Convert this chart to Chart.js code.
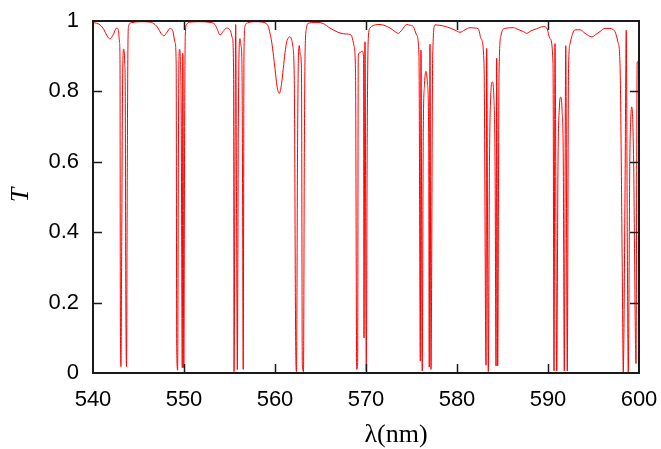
<!DOCTYPE html>
<html>
<head>
<meta charset="utf-8">
<script src="https://cdn.jsdelivr.net/npm/chart.js@4.4.0/dist/chart.umd.min.js"></script>
<style>
  html, body { margin: 0; padding: 0; background: #fff; }
  canvas { display: block; }
</style>
</head>
<body>
<canvas id="spectrum" width="661" height="449"></canvas>
<script>
const wavelength = [
  540.00, 540.77, 541.21, 541.54, 541.87, 542.20, 542.60, 542.78,
  542.91, 542.97, 543.00, 543.07, 543.16, 543.25, 543.37, 543.49, 543.55, 543.59, 543.68, 543.77, 543.84, 543.91,
  544.18, 545.16, 546.26, 546.81, 547.14, 547.47, 547.80, 548.13, 548.46, 548.79, 549.01,
  549.14, 549.20, 549.30, 549.38, 549.44, 549.51, 549.60, 549.69, 549.81, 549.87, 549.98, 550.07, 550.14, 550.27,
  550.66, 551.76, 552.86, 553.41, 553.63, 553.96, 554.29, 554.69, 555.05, 555.33,
  555.45, 555.50, 555.60, 555.68, 555.77, 555.86, 555.97, 556.07, 556.15, 556.26, 556.35, 556.40, 556.51, 556.59, 556.70,
  557.03, 557.80, 558.57, 559.01, 559.26, 559.45, 559.64, 559.84, 560.00, 560.22, 560.47, 560.71, 560.91, 561.10, 561.28, 561.48, 561.65, 561.81, 561.95,
  562.12, 562.27, 562.36, 562.47, 562.56, 562.67, 562.78, 562.91, 563.00, 563.13, 563.22, 563.30, 563.46, 563.63,
  564.40, 565.27, 566.04, 566.59, 567.14, 567.88, 568.24, 568.46, 568.68,
  568.85, 568.98, 569.08, 569.15, 569.34, 569.56, 569.73, 569.78, 569.89, 570.03, 570.14, 570.25, 570.44, 570.63,
  571.54, 572.64, 573.08, 573.55, 573.96, 574.47, 574.84, 575.20, 575.57,
  575.82, 575.97, 576.04, 576.18, 576.29, 576.43, 576.59, 576.76, 576.89, 576.95, 577.03, 577.14, 577.33, 577.58,
  578.49, 579.23, 579.78, 580.33, 580.88, 581.43, 581.98, 582.34, 582.64,
  582.97, 583.19, 583.26, 583.44, 583.57, 583.71, 583.88, 584.04, 584.18, 584.29, 584.36, 584.47, 584.62, 584.84, 585.27,
  586.19, 586.70, 587.29, 587.66, 588.13, 588.76, 589.48, 589.86, 590.22,
  590.55, 590.66, 590.77, 590.96, 591.10, 591.24, 591.40, 591.54, 591.68, 591.79, 591.95, 592.12, 592.25, 592.42, 592.60, 592.97,
  593.52, 594.07, 594.80, 595.27, 595.71, 596.26, 596.81, 597.14, 597.36, 597.69,
  597.91, 598.16, 598.27, 598.46, 598.60, 598.71, 598.82, 598.99, 599.09, 599.20, 599.31, 599.41, 599.67, 599.80, 600.00
];
const transmission = [
  0.996, 0.989, 0.975, 0.958, 0.949, 0.960, 0.980, 0.975,
  0.94, 0.88, 0.25, 0.018, 0.4, 0.82, 0.92, 0.88, 0.766, 0.33, 0.018, 0.6, 0.93, 0.985,
  0.995, 0.998, 0.997, 0.990, 0.980, 0.965, 0.958, 0.968, 0.979, 0.970, 0.940,
  0.88, 0.07, 0.008, 0.6, 0.88, 0.92, 0.89, 0.75, 0.015, 0.908, 0.015, 0.7, 0.96, 0.99,
  0.997, 0.998, 0.996, 0.990, 0.978, 0.960, 0.970, 0.980, 0.975, 0.950,
  0.85, 0.004, 0.6, 0.99, 0.5, 0.01, 0.7, 0.93, 0.95, 0.93, 0.9, 0.76, 0.01, 0.9, 0.985,
  0.995, 0.998, 0.997, 0.993, 0.985, 0.965, 0.940, 0.900, 0.865, 0.815, 0.794, 0.820, 0.865, 0.910, 0.940, 0.953, 0.955, 0.948, 0.930,
  0.83, 0.09, 0.004, 0.6, 0.88, 0.93, 0.905, 0.865, 0.025, 0.004, 0.6, 0.9, 0.98, 0.993,
  0.996, 0.993, 0.980, 0.972, 0.966, 0.963, 0.962, 0.955, 0.930,
  0.85, 0.01, 0.03, 0.903, 0.91, 0.915, 0.9, 0.1, 0.941, 0.006, 0.7, 0.95, 0.98, 0.985,
  0.990, 0.980, 0.972, 0.965, 0.975, 0.990, 0.988, 0.984, 0.960,
  0.9, 0.034, 0.917, 0.006, 0.67, 0.82, 0.857, 0.82, 0.67, 0.017, 0.934, 0.01, 0.9, 0.989,
  0.986, 0.980, 0.974, 0.968, 0.975, 0.981, 0.980, 0.978, 0.950,
  0.88, 0.022, 0.922, 0.004, 0.6, 0.79, 0.827, 0.79, 0.6, 0.02, 0.894, 0.02, 0.85, 0.96, 0.979,
  0.981, 0.976, 0.970, 0.965, 0.972, 0.978, 0.984, 0.980, 0.950,
  0.88, 0.006, 0.936, 0.006, 0.6, 0.75, 0.784, 0.75, 0.6, 0.006, 0.93, 0.006, 0.85, 0.935, 0.955, 0.975,
  0.975, 0.965, 0.955, 0.962, 0.970, 0.979, 0.979, 0.976, 0.970, 0.940,
  0.88, 0.3, 0.003, 0.5, 0.974, 0.4, 0.003, 0.6, 0.72, 0.756, 0.72, 0.6, 0.027, 0.884, 0.884
];
const xTicks = [540, 550, 560, 570, 580, 590, 600];
const yTicks = [0, 0.2, 0.4, 0.6, 0.8, 1];
const xTitle = 'λ(nm)';
const yTitle = 'T';

const points = wavelength.map((x, i) => ({ x: x, y: transmission[i] }));

// gnuplot-ish box: frame on all four sides, short ticks pointing inwards, titles
const frameAndTitles = {
  id: 'frameAndTitles',
  afterDatasetsDraw(chart) {
    const { ctx, chartArea: a, scales } = chart;
    const tl = 9;
    ctx.save();
    ctx.strokeStyle = '#1a1a1a';
    ctx.lineWidth = 1.5;
    ctx.beginPath();
    xTicks.slice(1, -1).forEach(v => {
      const px = Math.round(scales.x.getPixelForValue(v)) + 0.5;
      ctx.moveTo(px, a.bottom); ctx.lineTo(px, a.bottom - tl);
      ctx.moveTo(px, a.top); ctx.lineTo(px, a.top + tl);
    });
    yTicks.slice(1, -1).forEach(v => {
      const py = Math.round(scales.y.getPixelForValue(v)) + 0.5;
      ctx.moveTo(a.left, py); ctx.lineTo(a.left + tl, py);
      ctx.moveTo(a.right, py); ctx.lineTo(a.right - tl, py);
    });
    ctx.stroke();
    ctx.lineWidth = 2;
    ctx.strokeRect(a.left, a.top, a.right - a.left, a.bottom - a.top);

    ctx.fillStyle = '#000';
    ctx.textAlign = 'center';
    ctx.textBaseline = 'middle';
    ctx.font = '26px "Liberation Serif", serif';
    ctx.fillText(xTitle, 396, 435);
    ctx.translate(21, 195);
    ctx.rotate(-Math.PI / 2);
    ctx.font = 'italic 26px "Liberation Serif", serif';
    ctx.fillText(yTitle, 0, 0);
    ctx.restore();
  }
};

const tickFont = { family: '"Liberation Sans", Arial, sans-serif', size: 22 };

new Chart(document.getElementById('spectrum'), {
  type: 'line',
  data: {
    datasets: [{
      data: points,
      borderColor: '#ff0000',
      borderWidth: 1,
      pointRadius: 0,
      cubicInterpolationMode: 'monotone',
      fill: false
    }]
  },
  options: {
    responsive: false,
    animation: false,
    devicePixelRatio: 1,
    layout: { padding: { top: 21, right: 22, left: 0, bottom: 0 } },
    plugins: { legend: { display: false }, tooltip: { enabled: false } },
    scales: {
      x: {
        type: 'linear',
        min: 540, max: 600,
        afterBuildTicks: s => { s.ticks = xTicks.map(v => ({ value: v })); },
        afterFit: s => { s.height = 76; s.paddingLeft = 0; s.paddingRight = 0; },
        grid: { display: false, drawTicks: false },
        border: { display: false },
        ticks: { font: tickFont, color: '#000', padding: 14, maxRotation: 0, callback: v => String(v) }
      },
      y: {
        min: 0, max: 1,
        afterBuildTicks: s => { s.ticks = yTicks.map(v => ({ value: v })); },
        afterFit: s => { s.width = 93; s.paddingTop = 0; s.paddingBottom = 0; },
        grid: { display: false, drawTicks: false },
        border: { display: false },
        ticks: { font: tickFont, color: '#000', padding: 14, callback: v => String(v) }
      }
    }
  },
  plugins: [frameAndTitles]
});
</script>
</body>
</html>
